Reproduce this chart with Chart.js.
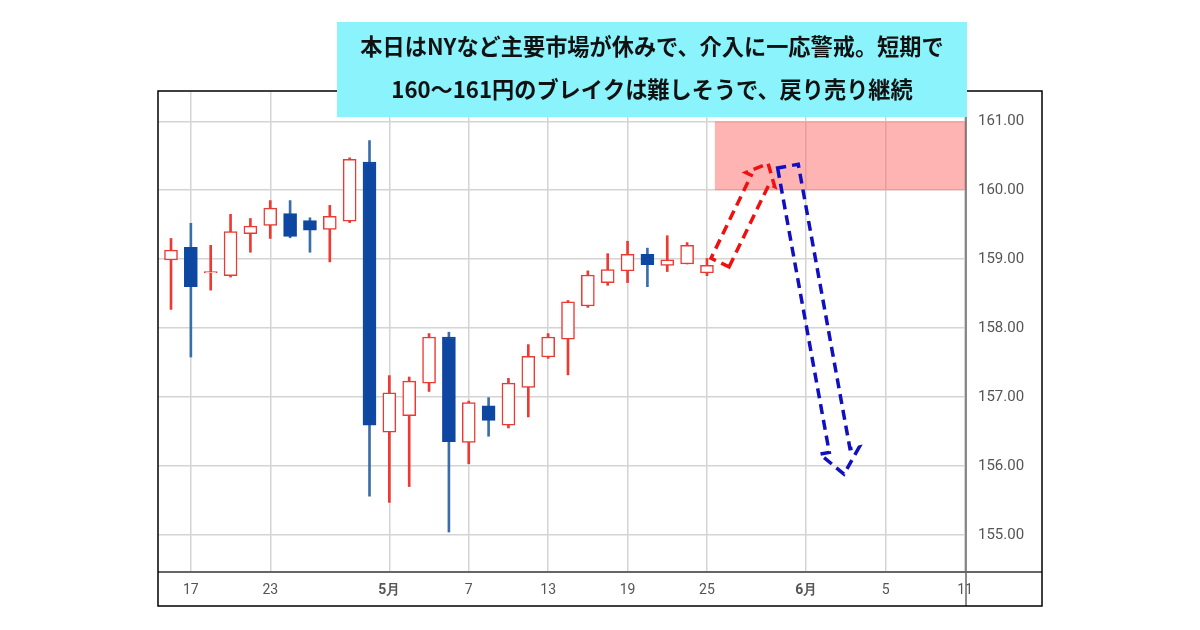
<!DOCTYPE html>
<html>
<head>
<meta charset="utf-8">
<script src="https://cdn.jsdelivr.net/npm/chart.js@4.4.1/dist/chart.umd.min.js"></script>
<style>
  html, body { margin: 0; padding: 0; background: #fff; }
  #wrap { width: 1200px; height: 630px; }
</style>
</head>
<body>
<div id="wrap"><canvas id="usdjpyChart" width="1200" height="630"></canvas></div>
<script>
        // ローソク足のデータ（日足）
        var candleIndex = [0, 1, 2, 3, 4, 5, 6, 7, 8, 9, 10, 11, 12, 13, 14, 15, 16, 17, 18, 19, 20, 21, 22, 23, 24, 25, 26, 27];
        var openPrices  = [158.99, 159.17, 158.80, 158.76, 159.37, 159.49, 159.66, 159.56, 159.43, 159.55, 160.41, 156.49, 156.73, 157.20,
                           157.87, 156.34, 156.87, 156.59, 157.14, 157.58, 157.84, 158.32, 158.66, 158.83, 159.07, 158.91, 158.93, 158.80];
        var highPrices  = [159.30, 159.52, 159.20, 159.65, 159.59, 159.85, 159.85, 159.60, 159.78, 160.47, 160.72, 157.31, 157.29, 157.92,
                           157.94, 156.94, 156.99, 157.27, 157.76, 157.92, 158.40, 158.83, 159.08, 159.26, 159.16, 159.34, 159.24, 159.01];
        var lowPrices   = [158.27, 157.58, 158.55, 158.74, 159.10, 159.30, 159.31, 159.10, 158.96, 159.53, 155.56, 155.47, 155.70, 157.08,
                           155.04, 156.03, 156.43, 156.55, 156.71, 157.56, 157.32, 158.30, 158.62, 158.66, 158.60, 158.82, 158.93, 158.76];
        var closePrices = [159.13, 158.60, 158.82, 159.40, 159.48, 159.74, 159.33, 159.42, 159.62, 160.45, 156.59, 157.06, 157.23, 157.87,
                           156.35, 156.92, 156.66, 157.20, 157.59, 157.87, 158.38, 158.77, 158.85, 159.07, 158.92, 158.99, 159.20, 158.91];

        // 軸の目盛り
        var tickPositions = [1, 5, 11, 15, 19, 23, 27, 32, 36, 40];
        var tickLabels = ['17', '23', '5月', '7', '13', '19', '25', '6月', '5', '11'];
        var priceTicks = [155, 156, 157, 158, 159, 160, 161];

        // 注目ゾーンと矢印（[位置, 価格]）
        var zoneStart = 27.4;
        var zoneLow = 160;
        var zoneHigh = 161;
        var upArrow = [[27.66, 158.95], [30.08, 160.39]];
        var downArrow = [[31.08, 160.35], [33.9, 155.88]];

        var titleLines = ['本日はNYなど主要市場が休みで、介入に一応警戒。短期で',
                          '160〜161円のブレイクは難しそうで、戻り売り継続'];

        var colorUp = '#ec3a33';
        var colorDown = '#0d47a1';
        var colorDownWick = '#3a6ea8';

        // データセットの組み立て
        var bodies = candleIndex.map(function (i) { return { x: i, y: [openPrices[i], closePrices[i]] }; });
        var wicks = candleIndex.map(function (i) { return { x: i, y: [lowPrices[i], highPrices[i]] }; });
        var isUp = candleIndex.map(function (i) { return closePrices[i] >= openPrices[i]; });

        function drawArrow(chart, pts, color, shaftW, headW, headL) {
            var sx = chart.scales.x, sy = chart.scales.y, ctx = chart.ctx;
            var x0 = sx.getPixelForValue(pts[0][0]), y0 = sy.getPixelForValue(pts[0][1]);
            var x1 = sx.getPixelForValue(pts[1][0]), y1 = sy.getPixelForValue(pts[1][1]);
            var len = Math.hypot(x1 - x0, y1 - y0);
            var dx = (x1 - x0) / len, dy = (y1 - y0) / len;
            var nx = -dy, ny = dx;
            var bx = x1 - dx * headL, by = y1 - dy * headL;
            ctx.save();
            ctx.strokeStyle = color;
            ctx.lineWidth = 3.5;
            ctx.setLineDash([10, 6]);
            ctx.beginPath();
            ctx.moveTo(x0 + nx * shaftW / 2, y0 + ny * shaftW / 2);
            ctx.lineTo(bx + nx * shaftW / 2, by + ny * shaftW / 2);
            ctx.lineTo(bx + nx * headW / 2, by + ny * headW / 2);
            ctx.lineTo(x1, y1);
            ctx.lineTo(bx - nx * headW / 2, by - ny * headW / 2);
            ctx.lineTo(bx - nx * shaftW / 2, by - ny * shaftW / 2);
            ctx.lineTo(x0 - nx * shaftW / 2, y0 - ny * shaftW / 2);
            ctx.closePath();
            ctx.stroke();
            ctx.restore();
        }

        var decorPlugin = {
            id: 'decor',
            beforeDatasetsDraw: function (chart) {
                var ctx = chart.ctx, a = chart.chartArea;
                var sx = chart.scales.x, sy = chart.scales.y;
                var left = sx.getPixelForValue(zoneStart);
                var top = sy.getPixelForValue(zoneHigh), bottom = sy.getPixelForValue(zoneLow);
                ctx.save();
                ctx.fillStyle = 'rgba(255, 95, 95, 0.47)';
                ctx.fillRect(left, top, a.right - left, bottom - top);
                ctx.restore();
            },
            afterDraw: function (chart) {
                var ctx = chart.ctx, a = chart.chartArea;
                ctx.save();
                // 軸の延長線
                ctx.strokeStyle = '#666';
                ctx.lineWidth = 2;
                ctx.beginPath();
                ctx.moveTo(a.left, a.bottom); ctx.lineTo(1042, a.bottom);
                ctx.stroke();
                ctx.lineWidth = 1.5;
                ctx.beginPath();
                ctx.moveTo(a.right, a.top); ctx.lineTo(a.right, 606);
                ctx.stroke();
                // 外枠
                ctx.strokeStyle = '#000';
                ctx.lineWidth = 1.5;
                ctx.strokeRect(158, 91, 884, 515);
                ctx.restore();

                drawArrow(chart, upArrow, '#ee1111', 20, 32, 18);
                drawArrow(chart, downArrow, '#1010c0', 21, 40, 24);

                // コメント枠
                ctx.save();
                ctx.fillStyle = '#8af3fb';
                ctx.fillRect(337, 22, 630, 95);
                ctx.fillStyle = '#111';
                ctx.font = 'bold 22.2px "Noto Sans CJK JP"';
                ctx.textAlign = 'center';
                ctx.textBaseline = 'middle';
                ctx.fillText(titleLines[0], 652, 47);
                ctx.fillText(titleLines[1], 652, 90);
                ctx.restore();
            }
        };

        var chartConfig = {
            type: 'bar',
            data: {
                datasets: [{
                    label: 'body',
                    data: bodies,
                    grouped: false,
                    barThickness: 13,
                    backgroundColor: isUp.map(function (u) { return u ? '#ffffff' : colorDown; }),
                    borderColor: isUp.map(function (u) { return u ? colorUp : colorDown; }),
                    borderWidth: 1.5,
                    borderSkipped: false
                }, {
                    label: 'wick',
                    data: wicks,
                    grouped: false,
                    barThickness: 2,
                    backgroundColor: isUp.map(function (u) { return u ? colorUp : colorDownWick; }),
                    borderWidth: 0
                }]
            },
            options: {
                responsive: false,
                animation: false,
                layout: { padding: { left: 158, right: 158, top: 91, bottom: 24 } },
                plugins: { legend: { display: false }, tooltip: { enabled: false } },
                scales: {
                    x: {
                        type: 'linear',
                        min: -0.655,
                        max: 40.05,
                        offset: false,
                        afterBuildTicks: function (scale) {
                            scale.ticks = tickPositions.map(function (v) { return { value: v }; });
                        },
                        afterFit: function (scale) { scale.height = 34; },
                        grid: { color: '#d4d4d4', lineWidth: 1.5, drawTicks: false, offset: false },
                        border: { display: false },
                        ticks: {
                            autoSkip: false,
                            maxRotation: 0,
                            padding: 10,
                            color: '#555',
                            font: function (ctx) {
                                var lbl = tickLabels[ctx.index] || '';
                                return { family: 'Roboto', size: 14, weight: lbl.indexOf('月') >= 0 ? 'bold' : 'normal' };
                            },
                            callback: function (value, index) { return tickLabels[index]; }
                        }
                    },
                    y: {
                        position: 'right',
                        min: 154.46,
                        max: 161.44,
                        afterBuildTicks: function (scale) {
                            scale.ticks = priceTicks.map(function (v) { return { value: v }; });
                        },
                        afterFit: function (scale) { scale.width = 76; },
                        grid: { color: '#d4d4d4', lineWidth: 1.5, drawTicks: false },
                        border: { display: false },
                        ticks: {
                            padding: 12,
                            color: '#555',
                            font: { family: 'Roboto', size: 15 },
                            callback: function (value) { return value.toFixed(2); }
                        }
                    }
                }
            },
            plugins: [decorPlugin]
        };

        // チャートの初期化
        var ctxChart = document.getElementById('usdjpyChart').getContext('2d');
        var usdjpyChart = new Chart(ctxChart, chartConfig);
</script>
</body>
</html>
